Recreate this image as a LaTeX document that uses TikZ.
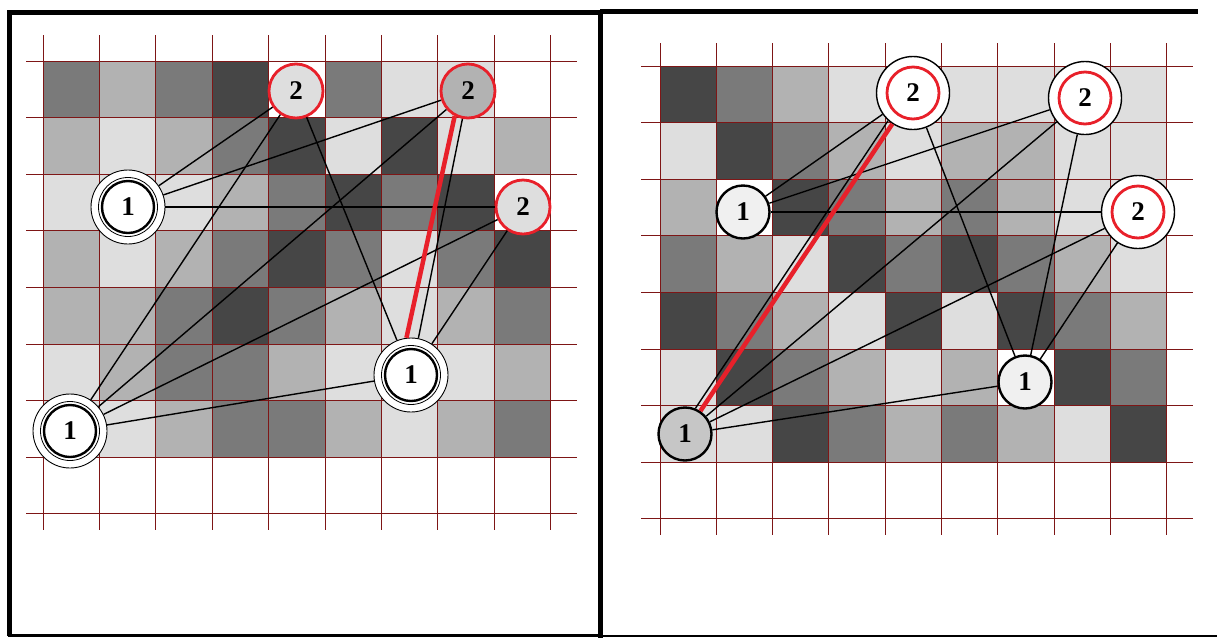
\documentclass[tikz,border=0pt]{standalone}
\usepackage{fontspec}
\setmainfont{Liberation Serif}
\usepackage{xcolor}
\usepackage{tikz}
\usetikzlibrary{calc}
\definecolor{gD}{HTML}{464646}
\definecolor{gM}{HTML}{7A7A7A}
\definecolor{gL}{HTML}{B2B2B2}
\definecolor{gV}{HTML}{DEDEDE}
\definecolor{gW}{HTML}{FFFFFF}
\definecolor{gridred}{HTML}{7E1616}
\definecolor{hotred}{HTML}{E8202A}
\newcommand{\numfont}{\fontsize{27}{27}\selectfont\bfseries}
\tikzset{
  gridline/.style={draw=gridred, line width=1pt},
  frame/.style={black, line width=5pt},
  thinframe/.style={black, line width=2.2pt},
  edge/.style={black, line width=1.4pt},
  best/.style={hotred, line width=4.5pt},
  onering/.style={
    circle, draw=black, line width=0.9pt,
    fill=white, inner sep=0pt,
    minimum size=74pt, font=\numfont,
    path picture={
      \draw[line width=2.4pt] (path picture bounding box.center) circle[radius=26pt];
      \draw[line width=0.8pt] (path picture bounding box.center) circle[radius=29.5pt];
    }
  },
  onedot/.style={
    circle, draw=black, line width=2.4pt,
    inner sep=0pt, minimum size=53pt, font=\numfont
  },
  tworing/.style={
    circle, draw=black, line width=1.4pt,
    fill=white, inner sep=0pt,
    minimum size=73pt, font=\numfont,
    path picture={
      \draw[hotred, line width=2.8pt] (path picture bounding box.center) circle[radius=26pt];
    }
  },
  twodot/.style={
    circle, draw=hotred, line width=2.8pt,
    inner sep=0pt, minimum size=54pt, font=\numfont
  }
}

\begin{document}
\begin{tikzpicture}[x=1pt, y=-1pt]
  \useasboundingbox (0,0) rectangle (1217,638);

  % ---- Left board ----
  \begin{scope}[shift={(43,61)}]
    \foreach \row [count=\j] in {
        {M,L,M,D,W,M,V,V,W},
        {L,V,L,M,D,V,D,V,L},
        {V,V,V,L,M,D,M,D,W},
        {L,V,L,M,D,M,V,M,D},
        {L,L,M,D,M,L,V,L,M},
        {V,L,M,M,L,V,V,V,L},
        {V,V,L,M,M,L,V,L,M}}
      \foreach \c [count=\i] in \row
        \fill[g\c] ({(\i-1)*56.4},{(\j-1)*56.6}) rectangle ++(56.4,56.6);
    \foreach \i in {0,...,9}
      \draw[gridline] ({\i*56.4},-26) -- ++(0,495);
    \foreach \j in {0,...,8}
      \draw[gridline] (-17,{\j*56.6}) -- ++(551,0);
  \end{scope}

  % ---- Right board ----
  \begin{scope}[shift={(660,66)}]
    \foreach \row [count=\j] in {
        {D,M,L,V,V,V,V,V,V},
        {V,D,M,L,V,L,L,V,V},
        {L,W,D,M,L,M,L,V,V},
        {M,L,V,D,M,D,M,L,V},
        {D,M,L,V,D,V,D,M,L},
        {V,D,M,L,V,L,W,D,M},
        {V,V,D,M,L,M,L,V,D}}
      \foreach \c [count=\i] in \row
        \fill[g\c] ({(\i-1)*56.3},{(\j-1)*56.6}) rectangle ++(56.3,56.6);
    \foreach \i in {0,...,9}
      \draw[gridline] ({\i*56.3},-23) -- ++(0,492);
    \foreach \j in {0,...,8}
      \draw[gridline] (-19,{\j*56.6}) -- ++(552,0);
  \end{scope}

  % ---- Frames ----
  \draw[frame] (9.5,636) -- (9.5,12.5) -- (600,12.5);
  \draw[thinframe] (8,635.5) -- (600,635.5);
  \draw[frame] (600.5,12) -- (600.5,638);
  \draw[frame] (600,11) -- (1198,11);
  \draw[thinframe] (600,636) -- (1217,636);

  % ---- Left nodes ----
  \node[onering]            (la1) at (128,207) {1};
  \node[onering]            (lb1) at (70,431)  {1};
  \node[onering]            (lc1) at (411,375) {1};
  \node[twodot, fill=gV]    (la2) at (296,91)  {2};
  \node[twodot, fill=gL]    (lb2) at (468,91)  {2};
  \node[twodot, fill=gV]    (lc2) at (523,207) {2};

  % ---- Right nodes ----
  \node[onedot, fill=gray!12] (ra1) at (743,212)  {1};
  \node[onedot, fill=gray!45] (rb1) at (685,434)  {1};
  \node[onedot, fill=gray!12] (rc1) at (1025,382) {1};
  \node[tworing]              (ra2) at (913,93)   {2};
  \node[tworing]              (rb2) at (1085,98)  {2};
  \node[tworing]              (rc2) at (1138,212) {2};

  % ---- Left edges ----
  \draw[edge] (la1) -- (la2);
  \draw[edge] (la1) -- (lb2);
  \draw[edge] (la1) -- (lc2);
  \draw[edge] (lb1) -- (la2);
  \draw[edge] (lb1) -- (lb2);
  \draw[edge] (lb1) -- (lc2);
  \draw[edge] (lb1) -- (lc1);
  \draw[edge] (lc1) -- (la2);
  \draw[edge] (lc1) -- (lb2);
  \draw[edge] (lc1) -- (lc2);
  \draw[best] (lb2.242) -- (lc1.97);

  % ---- Right edges ----
  \draw[edge] (ra1) -- (ra2);
  \draw[edge] (ra1) -- (rb2);
  \draw[edge] (ra1) -- (rc2);
  \draw[edge] (rb1.68) -- (ra2.228);
  \draw[edge] (rb1) -- (rb2);
  \draw[edge] (rb1) -- (rc2);
  \draw[edge] (rb1) -- (rc1);
  \draw[edge] (rc1) -- (ra2);
  \draw[edge] (rc1) -- (rb2);
  \draw[edge] (rc1) -- (rc2);
  \draw[best] (rb1) -- (ra2);

\end{tikzpicture}
\end{document}
